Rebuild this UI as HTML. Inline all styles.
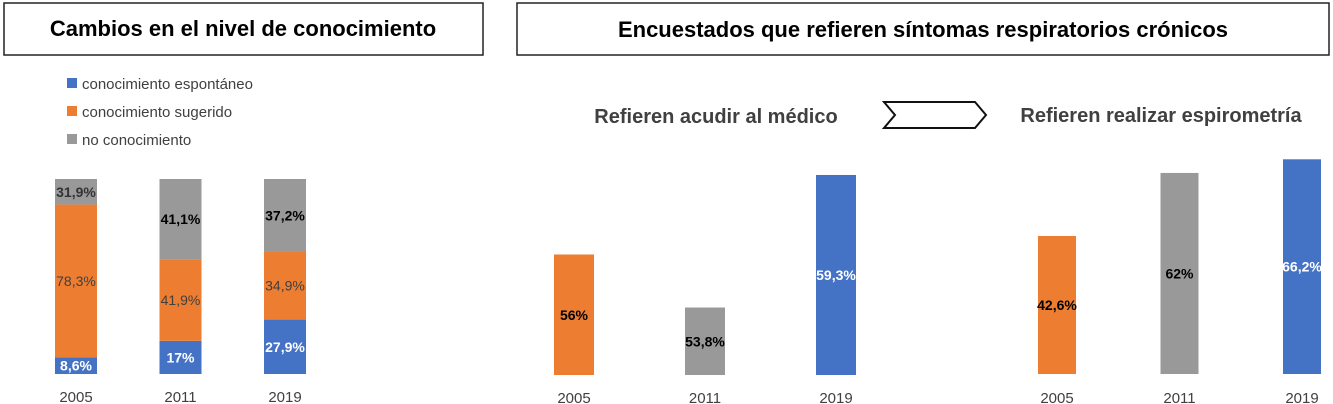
<!DOCTYPE html>
<html><head><meta charset="utf-8"><style>
body{margin:0;width:1333px;height:404px;overflow:hidden;background:#fff;font-family:"Liberation Sans",sans-serif}
svg{display:block}
</style></head><body>
<svg width="1333" height="404">
<rect x="4" y="3" width="479" height="52" fill="#fff" stroke="#222" stroke-width="1.5"/>
<text x="243" y="36" text-anchor="middle" font-size="22" font-weight="bold" fill="#000">Cambios en el nivel de conocimiento</text>
<rect x="517" y="3" width="812" height="52" fill="#fff" stroke="#222" stroke-width="1.5"/>
<text x="923" y="37" text-anchor="middle" font-size="22" font-weight="bold" fill="#000">Encuestados que refieren síntomas respiratorios crónicos</text>
<g>
<rect x="67" y="78" width="10" height="10" fill="#4472C4"/>
<text x="82" y="89" font-size="15" fill="#404040">conocimiento espontáneo</text>
<rect x="67" y="106" width="10" height="10" fill="#ED7D31"/>
<text x="82" y="117" font-size="15" fill="#404040">conocimiento sugerido</text>
<rect x="67" y="134" width="10" height="10" fill="#999"/>
<text x="82" y="145" font-size="15" fill="#404040">no conocimiento</text>
</g>
<text x="716" y="123" text-anchor="middle" font-size="20" font-weight="bold" fill="#404040">Refieren acudir al médico</text>
<polygon points="884,102 975,102 986,115 975,128 884,128 895,115" fill="#fff" stroke="#111" stroke-width="2"/>
<text x="1161" y="122" text-anchor="middle" font-size="20" font-weight="bold" fill="#404040">Refieren realizar espirometría</text>
<g id="charts"></g>
</svg>
<script>
const years = ["2005","2011","2019"];
const espontaneo = [8.6, 17, 27.9];
const sugerido = [78.3, 41.9, 34.9];
const noConoc = [31.9, 41.1, 37.2];
const medicoVals = [56, 53.8, 59.3];
const espiroVals = [42.6, 62, 66.2];
const fmt = v => String(v).replace('.', ',') + '%';
const NS = "http://www.w3.org/2000/svg";
const g = document.getElementById('charts');
function mk(tag, attrs, parent){const e=document.createElementNS(NS,tag);for(const k in attrs)e.setAttribute(k,attrs[k]);(parent||g).appendChild(e);return e;}
function txt(x,y,s,opts){const t=mk('text',Object.assign({x:x,y:y,'text-anchor':'middle','font-size':14},opts));t.textContent=s;return t;}
// stacked chart (axis 0..100%, capped at top)
const sx = i => 76 + i*104.5;
const sTop = 179, sBot = 374;
const sy = v => sBot - Math.min(v,100)/100*(sBot-sTop);
years.forEach((yr,i)=>{
  let cum = 0;
  const segs = [[espontaneo[i],'#4472C4','#fff','bold','espontaneo'],[sugerido[i],'#ED7D31','#404040','normal','sugerido'],[noConoc[i],'#999','#000','bold','no-conocimiento']];
  segs.forEach(s=>{
    const y0 = sy(cum), y1 = sy(cum + s[0]); cum += s[0];
    const h = y0 - y1;
    const r = mk('rect',{x:sx(i)-21,y:y1,width:42,height:h,fill:s[1]});
    
    
    const t = txt(sx(i), y1+h/2+5, fmt(s[0]), {fill:(i==0&&s[4]=='no-conocimiento')?'#333':s[2],'font-weight':s[3]});
    
    
  });
  const yl = txt(sx(i), 402, yr, {'font-size':15, fill:'#404040'});
  
  
});
// simple bar charts
const colors = ['#ED7D31','#999','#4472C4'];
const lblColor = ['#000','#000','#fff'];
function barChart(vals, cx, base, k, bot, w, name){
  vals.forEach((v,i)=>{
    const h = (v-base)*k;
    const r = mk('rect',{x:cx(i)-w/2,y:bot-h,width:w,height:h,fill:colors[i]});
    
    
    const t = txt(cx(i), bot-h/2+5, fmt(v), {'font-weight':'bold',fill:lblColor[i]});
    
    
    const yl = txt(cx(i), 403, years[i], {'font-size':15, fill:'#404040'});
    
    
  });
}
barChart(medicoVals, i=>574+i*131, 51, 24.1, 375, 40, 'medico');
barChart(espiroVals, i=>1057+i*122.5, 0.14, 3.25, 374, 38, 'espirometria');
</script>
</body></html>
